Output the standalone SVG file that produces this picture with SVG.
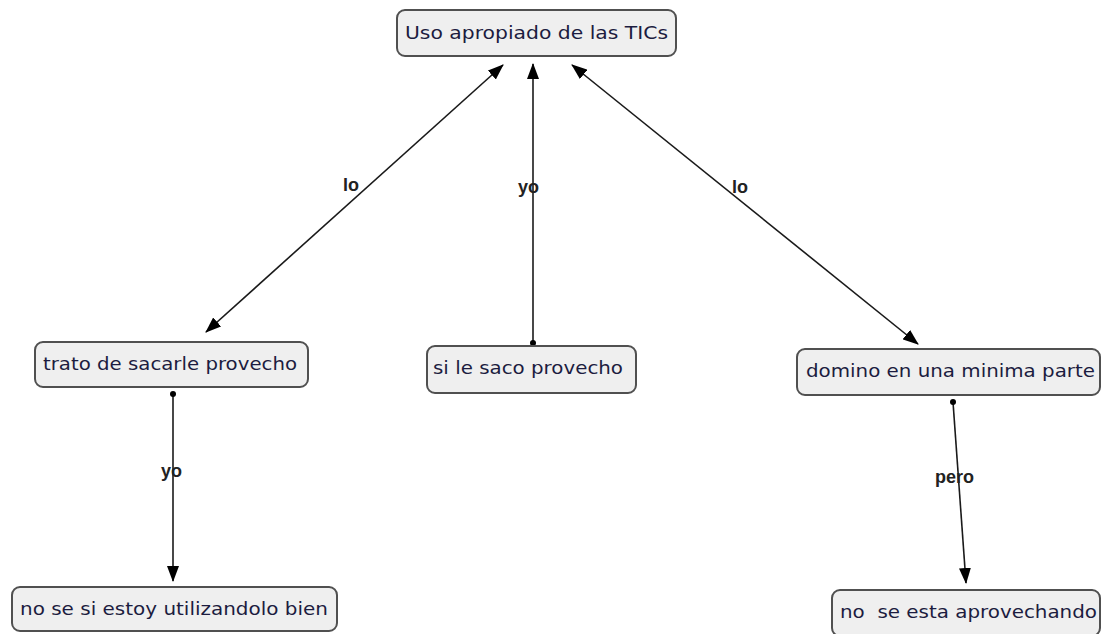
<svg xmlns="http://www.w3.org/2000/svg" width="1101" height="634" viewBox="0 0 1101 634">
<style>
.box{fill:#efefef;stroke:#505050;stroke-width:2}
.t{font-family:"DejaVu Sans","Liberation Sans",sans-serif;font-size:18px;fill:#1c1c40}
.lbl{font-family:"Liberation Sans",Arial,sans-serif;font-size:18px;font-weight:bold;fill:#222}
.ln{stroke:#1a1a1a;stroke-width:1.6;fill:none}
</style>
<defs>
<marker id="ah" viewBox="0 0 16 12" refX="15" refY="6" markerWidth="16" markerHeight="12" markerUnits="userSpaceOnUse" orient="auto-start-reverse">
<path d="M0,0 L16,6 L0,12 Z" fill="#000"/>
</marker>
<marker id="dot" viewBox="0 0 6 6" refX="3" refY="3" markerWidth="6" markerHeight="6" markerUnits="userSpaceOnUse">
<circle cx="3" cy="3" r="3" fill="#000"/>
</marker>
</defs>
<g id="connectors">
<line class="ln" x1="206" y1="332" x2="503" y2="65" marker-start="url(#ah)" marker-end="url(#ah)"/>
<line class="ln" x1="533" y1="343" x2="533" y2="64" marker-start="url(#dot)" marker-end="url(#ah)"/>
<line class="ln" x1="572" y1="65" x2="918" y2="344" marker-start="url(#ah)" marker-end="url(#ah)"/>
<line class="ln" x1="173" y1="394" x2="173" y2="581" marker-start="url(#dot)" marker-end="url(#ah)"/>
<line class="ln" x1="953" y1="402" x2="966" y2="583" marker-start="url(#dot)" marker-end="url(#ah)"/>
<text class="lbl" x="343" y="191">lo</text>
<text class="lbl" x="518" y="193">yo</text>
<text class="lbl" x="732" y="193">lo</text>
<text class="lbl" x="161" y="477">yo</text>
<text class="lbl" x="935" y="483">pero</text>
</g>
<g id="n1">
<rect class="box" x="397" y="10" width="279" height="46" rx="8"/>
<text class="t" x="405" y="39" textLength="263" lengthAdjust="spacingAndGlyphs">Uso apropiado de las TICs</text>
</g>
<g id="n2">
<rect class="box" x="35" y="342" width="273" height="45" rx="8"/>
<text class="t" x="43" y="370" textLength="254" lengthAdjust="spacingAndGlyphs">trato de sacarle provecho</text>
</g>
<g id="n3">
<rect class="box" x="427" y="346" width="209" height="47" rx="8"/>
<text class="t" x="433" y="374" textLength="190" lengthAdjust="spacingAndGlyphs">si le saco provecho</text>
</g>
<g id="n4">
<rect class="box" x="797" y="349" width="303" height="46" rx="8"/>
<text class="t" x="806" y="377" textLength="289" lengthAdjust="spacingAndGlyphs">domino en una minima parte</text>
</g>
<g id="n5">
<rect class="box" x="12" y="587" width="325" height="44" rx="8"/>
<text class="t" x="20" y="615" textLength="308" lengthAdjust="spacingAndGlyphs">no se si estoy utilizandolo bien</text>
</g>
<g id="n6">
<rect class="box" x="832" y="590" width="268" height="46" rx="8"/>
<text class="t" x="840" y="618" textLength="257" lengthAdjust="spacingAndGlyphs" xml:space="preserve">no  se esta aprovechando</text>
</g>
</svg>
